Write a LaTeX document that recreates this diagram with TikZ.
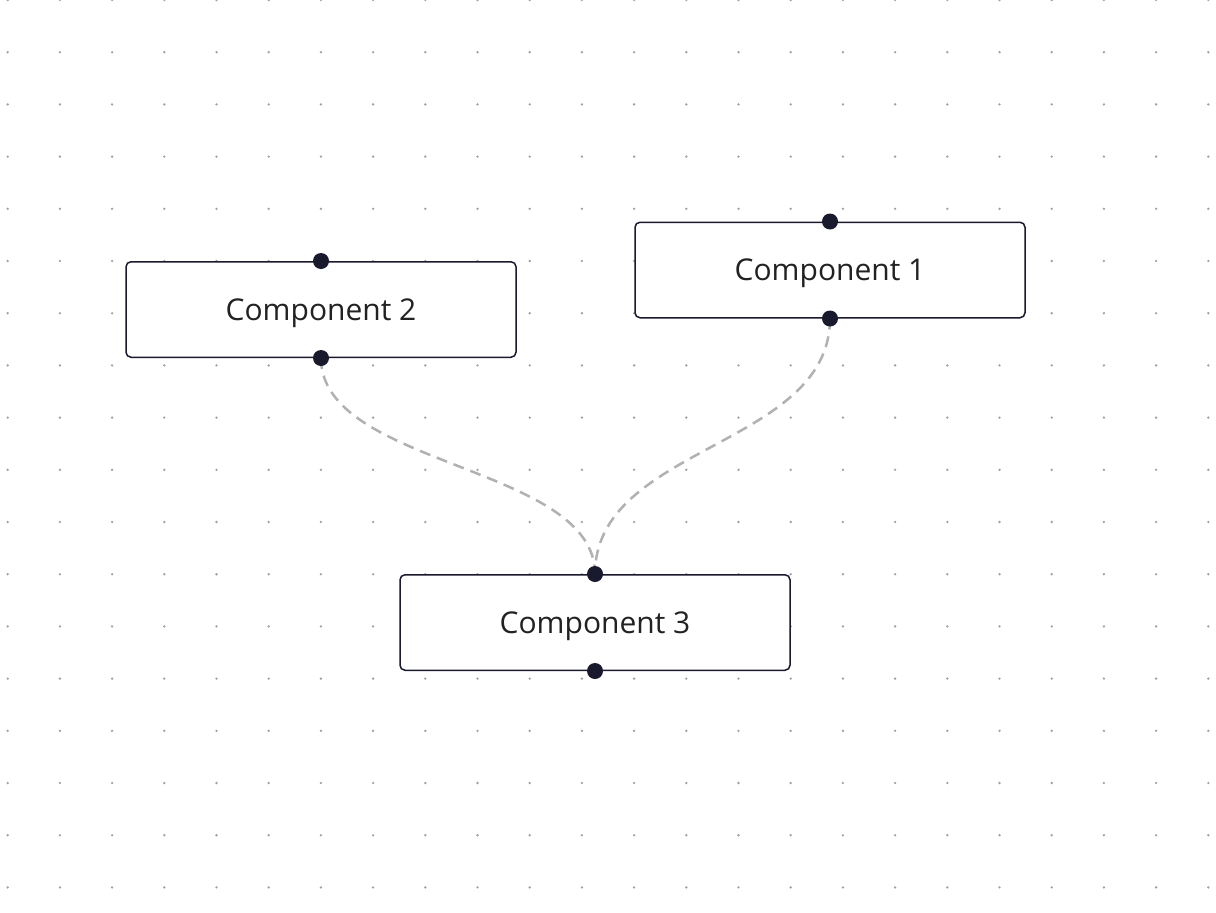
\documentclass[tikz,border=0pt]{standalone}
\usepackage{fontspec}
\setmainfont{Open Sans}
\usetikzlibrary{calc}
\definecolor{ink}{HTML}{1A1A2E}
\definecolor{labelink}{HTML}{222222}
\definecolor{griddot}{HTML}{A0A0A0}
\definecolor{edgegray}{HTML}{B1B1B1}
\tikzset{
  component/.style={draw=ink, line width=1.5pt, rounded corners=5pt, fill=white,
    minimum width=390pt, minimum height=95.5pt, inner sep=0pt,
    text=labelink, font=\fontsize{30}{35}\selectfont, text depth=0pt},
  handle/.style={circle, fill=ink, draw=none, minimum size=16pt, inner sep=0pt},
  link/.style={draw=edgegray, line width=2.5pt, dash pattern=on 11pt off 7pt},
}
\begin{document}
\begin{tikzpicture}[x=1pt, y=1pt]
  \useasboundingbox (0,0) rectangle (1216,-913);
  \fill[white] (0,0) rectangle (1216,-913);
  % dotted background grid
  \foreach \i in {0,...,23} {
    \foreach \j in {0,...,17} {
      \fill[griddot] ({7.7+52.2*\i}, {-52.2*\j}) circle (1.3);
    }
  }
  % components
  \node[component] (c2) at (321,-309.5) {Component 2};
  \node[component] (c1) at (830,-270) {Component 1};
  \node[component] (c3) at (595,-622.5) {Component 3};
  % connectors (drawn under the handles)
  \coordinate (c2b) at (c2.south);
  \coordinate (c1b) at (c1.south);
  \coordinate (c3t) at (c3.north);
  \draw[link] (c2b) .. controls ($(c2b)+(0,-109)$) and ($(c3t)+(0,109)$) .. (c3t);
  \draw[link] (c1b) .. controls ($(c1b)+(0,-128.5)$) and ($(c3t)+(0,128.5)$) .. (c3t);
  % handles
  \node[handle] (c2top) at (c2.north) {};
  \node[handle] (c2bot) at (c2.south) {};
  \node[handle] (c1top) at (c1.north) {};
  \node[handle] (c1bot) at (c1.south) {};
  \node[handle] (c3top) at (c3.north) {};
  \node[handle] (c3bot) at (c3.south) {};
\end{tikzpicture}
\end{document}
